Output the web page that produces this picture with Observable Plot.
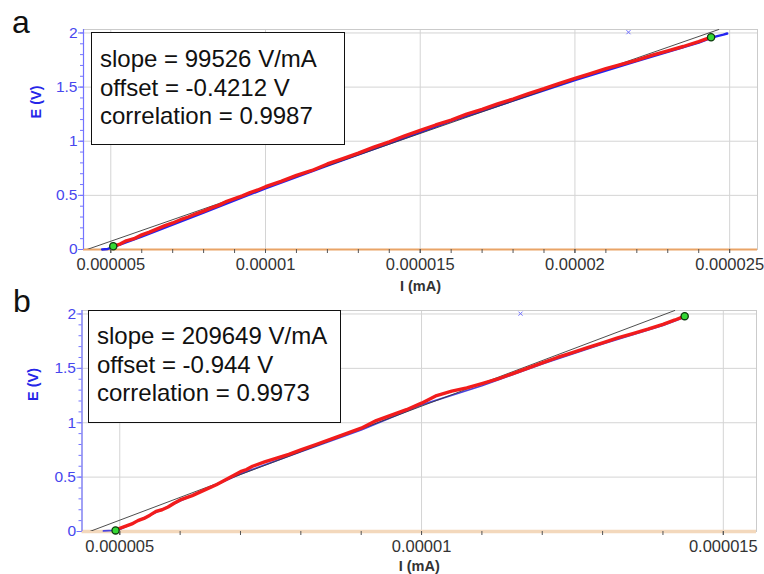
<!DOCTYPE html>
<html>
<head>
<meta charset="utf-8">
<script src="https://cdn.jsdelivr.net/npm/d3@7"></script>
<script src="https://cdn.jsdelivr.net/npm/@observablehq/plot@0.6"></script>
<style>
  body { margin: 0; background: #fff; }
  #wrap { position: relative; width: 764px; height: 574px; font-family: "Liberation Sans", Arial, sans-serif; overflow: hidden; }
  .panel { position: absolute; left: 0; }
  .box { position: absolute; border: 1.5px solid #111; background: #fff; font-size: 24px; line-height: 28.5px;
         padding: 12px 0 0 8px; box-sizing: border-box; color: #111; white-space: nowrap; }
  .letter { position: absolute; font-size: 32px; color: #111; line-height: 1; }
</style>
</head>
<body>
<div id="wrap"></div>
<script>
// ---------- DATA (current I in 1e-6 mA units, E in V) ----------
const panels = ["a", "b"];
const stats = {
  a: ["slope = 99526 V/mA", "offset = -0.4212 V", "correlation = 0.9987"],
  b: ["slope = 209649 V/mA", "offset = -0.944 V", "correlation = 0.9973"]
};
const slopeA = 99526, offsetA = -0.4212;
const slopeB = 209649, offsetB = -0.944;

// red (filtered) trace, panel a
const redA = [[5.08,0.03],[5.3,0.05],[5.5,0.08],[5.75,0.10],[6.0,0.135],[6.25,0.16],[6.5,0.19],[6.75,0.22],
  [7.0,0.245],[7.25,0.275],[7.5,0.30],[7.75,0.33],[8.0,0.355],[8.25,0.385],[8.5,0.41],[8.75,0.445],[9.0,0.47],
  [9.25,0.495],[9.5,0.525],[9.75,0.55],[10.0,0.58],[10.5,0.63],[11.0,0.685],[11.5,0.73],[12.0,0.79],[12.5,0.84],
  [13.0,0.89],[13.5,0.945],[14.0,0.995],[14.5,1.05],[15.0,1.10],[15.5,1.15],[16.0,1.195],[16.5,1.25],[17.0,1.295],
  [17.5,1.345],[18.0,1.39],[18.5,1.44],[19.0,1.485],[19.5,1.535],[20.0,1.58],[20.5,1.625],[21.0,1.67],[21.5,1.71],
  [22.0,1.75],[22.5,1.795],[23.0,1.835],[23.5,1.875],[24.0,1.92],[24.2,1.94],[24.4,1.96]];
// blue (raw) trace, panel a
const blueA = [[4.72,0.0],[4.9,0.005],[5.05,0.02],[6.0,0.12],[8.0,0.34],[10.0,0.565],[12.0,0.775],[14.0,0.98],
  [16.0,1.185],[18.0,1.375],[20.0,1.565],[22.0,1.74],[24.0,1.91],[24.4,1.955],[24.6,1.97],[24.8,1.985],[24.92,1.995]];
const endsA = [[5.08,0.03],[24.4,1.96]];
const strayA = [[21.73,2.007]];

// red (filtered) trace, panel b
const redB = [[4.93,0.01],[5.0,0.03],[5.1,0.05],[5.2,0.07],[5.3,0.10],[5.4,0.12],[5.5,0.15],[5.6,0.185],[5.7,0.20],
  [5.8,0.225],[5.9,0.26],[6.0,0.29],[6.2,0.33],[6.4,0.38],[6.6,0.43],[6.8,0.49],[6.9,0.52],[7.0,0.55],[7.1,0.57],
  [7.2,0.60],[7.4,0.64],[7.6,0.675],[7.8,0.71],[8.0,0.75],[8.25,0.80],[8.5,0.85],[8.75,0.90],[9.0,0.95],[9.25,1.02],
  [9.5,1.07],[9.75,1.12],[10.0,1.18],[10.25,1.25],[10.5,1.29],[10.75,1.32],[11.0,1.36],[11.25,1.40],[11.5,1.45],
  [11.75,1.50],[12.0,1.55],[12.25,1.60],[12.5,1.645],[12.75,1.69],[13.0,1.735],[13.25,1.78],[13.5,1.82],[13.75,1.86],
  [14.0,1.905],[14.2,1.945],[14.36,1.98]];
// blue (raw) trace, panel b
const blueB = [[4.73,0.005],[4.9,0.01],[5.0,0.02],[6.0,0.28],[7.0,0.53],[8.0,0.735],[9.0,0.935],[10.0,1.165],
  [11.0,1.34],[12.0,1.54],[13.0,1.725],[14.0,1.895],[14.36,1.97]];
const endsB = [[4.93,0.01],[14.36,1.98]];
const strayB = [[11.64,2.003]];

// axes
const xDomainA = [4.118, 25.9], xDomainB = [4.374, 15.55];
const yDomain = [0, 2.032];
const xTicksA = [5, 10, 15, 20, 25], xTicksB = [5, 10, 15];
const xMinorA = d3.range(5, 26, 1), xMinorB = d3.range(5, 16, 1);
const yTicks = [0, 0.5, 1, 1.5, 2];
const yMinor = d3.range(0, 21).map(i => i / 10);
// ----------------------------------------------------------------

const U = 1e-6;
const toPts = arr => arr.map(([i, e]) => ({I: i * U, E: e}));
const fmtX = d => String(parseFloat(d.toFixed(8)));

// linear fit E = slope * I + offset, from E = 0 up to the top of the frame
function fitLine(slope, offset, ymax) {
  return [{I: (0 - offset) / slope, E: 0}, {I: (ymax - offset) / slope, E: ymax}];
}

function panel(cfg) {
  const blueAxis = "#7373ff";
  return Plot.plot({
    width: 764, height: 287,
    marginLeft: cfg.ml, marginRight: cfg.mr, marginTop: cfg.mt, marginBottom: cfg.mb,
    style: {fontFamily: '"Liberation Sans", Arial, sans-serif', background: "transparent", overflow: "visible"},
    x: {domain: cfg.xDomain.map(d => d * U)},
    y: {domain: yDomain},
    marks: [
      Plot.gridX(cfg.xTicks.map(d => d * U), {stroke: "#d4d4d4", strokeOpacity: 1}),
      Plot.gridY(yTicks, {stroke: "#d4d4d4", strokeOpacity: 1}),
      Plot.frame({stroke: "#cbcbcb"}),
      Plot.ruleY([0], {stroke: cfg.orange, strokeWidth: cfg.orangeW}),
      Plot.line(toPts(cfg.blue), {x: "I", y: "E", stroke: cfg.blueColor, strokeWidth: cfg.blueW}),
      Plot.line(fitLine(cfg.slope, cfg.offset, yDomain[1]), {x: "I", y: "E", stroke: "#3a3a3a", strokeWidth: 0.9, clip: true}),
      Plot.line(toPts(cfg.red), {x: "I", y: "E", stroke: "#f21c1c", strokeWidth: 3.4, strokeLinejoin: "round"}),
      Plot.dot(toPts(cfg.stray), {x: "I", y: "E", symbol: "times", r: 2, stroke: "#7070ff", strokeWidth: 1}),
      Plot.dot(toPts(cfg.ends), {x: "I", y: "E", r: 3.6, fill: "#35d835", stroke: "#0e3a0e", strokeWidth: 1.3}),
      Plot.ruleX([cfg.xDomain[0] * U], {stroke: blueAxis, strokeWidth: 1.2}),
      Plot.axisX(cfg.xMinor.map(d => d * U), {label: null, tickSize: 4, tickFormat: () => "", stroke: "#555"}),
      Plot.axisX(cfg.xTicks.map(d => d * U), {label: null, tickSize: 4, tickPadding: 5, tickFormat: fmtX, fontSize: 16.5, fill: "#333", stroke: "#555"}),
      Plot.axisY(yMinor, {label: null, tickSize: 3, tickFormat: () => "", stroke: blueAxis}),
      Plot.axisY(yTicks, {label: null, tickSize: 5, tickPadding: 1, tickFormat: d => String(d), fontSize: 15.5, fill: "#4747ee", stroke: blueAxis}),
      Plot.text(["I (mA)"], {text: d => d, frameAnchor: "bottom", lineAnchor: "middle", dy: cfg.xLabelDy, fontSize: 14.5, fontWeight: "bold", fill: "#333"}),
      Plot.text(["E (V)"], {text: d => d, frameAnchor: "left", rotate: -90, lineAnchor: "middle", dx: cfg.yLabelDx, dy: cfg.yLabelDy, fontSize: 14.5, fontWeight: "bold", fill: "#2525e8"})
    ]
  });
}

const cfgs = {
  a: {top: 0, ml: 83, mr: 7, mt: 29, mb: 38, xDomain: xDomainA, xTicks: xTicksA, xMinor: xMinorA,
      red: redA, blue: blueA, ends: endsA, stray: strayA, slope: slopeA, offset: offsetA,
      orange: "#e9a467", orangeW: 2, blueColor: "#2323f0", blueW: 2.4,
      xLabelDy: 37, yLabelDx: -47, yLabelDy: -21,
      box: {left: 91, top: 32, width: 254, height: 113, pt: 12}, letter: {left: 12, top: 6}},
  b: {top: 287, ml: 81.5, mr: 8, mt: 23, mb: 43, xDomain: xDomainB, xTicks: xTicksB, xMinor: xMinorB,
      red: redB, blue: blueB, ends: endsB, stray: strayB, slope: slopeB, offset: offsetB,
      orange: "#f3d8bc", orangeW: 3.5, blueColor: "#4a44dd", blueW: 1.8,
      xLabelDy: 35, yLabelDx: -49, yLabelDy: -20,
      box: {left: 88, top: 310, width: 253, height: 113, pt: 11}, letter: {left: 13, top: 285}}
};

const wrap = document.getElementById("wrap");
for (const p of panels) {
  const c = cfgs[p];
  const svg = panel(c);
  svg.classList.add("panel");
  svg.style.top = c.top + "px";
  wrap.appendChild(svg);

  const box = document.createElement("div");
  box.className = "box";
  Object.assign(box.style, {left: c.box.left + "px", top: c.box.top + "px", width: c.box.width + "px",
    height: c.box.height + "px", paddingTop: c.box.pt + "px"});
  box.innerHTML = stats[p].map(s => `<div>${s}</div>`).join("");
  wrap.appendChild(box);

  const letter = document.createElement("div");
  letter.className = "letter";
  letter.textContent = p;
  letter.style.left = c.letter.left + "px";
  letter.style.top = c.letter.top + "px";
  wrap.appendChild(letter);
}
</script>
</body>
</html>
